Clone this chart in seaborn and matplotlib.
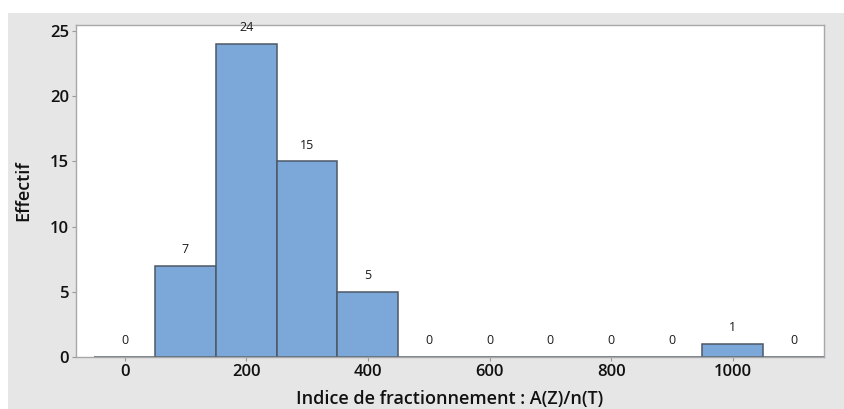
import pandas as pd
import seaborn as sns
import matplotlib.pyplot as plt
from matplotlib.patches import Rectangle

# bin centres (width 100) and counts
bin_centres = [0, 100, 200, 300, 400, 500, 600, 700, 800, 900, 1000, 1100]
counts = [0, 7, 24, 15, 5, 0, 0, 0, 0, 0, 1, 0]
x_ticks = [0, 200, 400, 600, 800, 1000]
y_ticks = [0, 5, 10, 15, 20, 25]

df = pd.DataFrame({"indice": bin_centres, "effectif": counts})
edges = [c - 50 for c in bin_centres] + [bin_centres[-1] + 50]

sns.set_theme(style="white")
plt.rcParams["font.family"] = ["Open Sans", "DejaVu Sans"]

fig = plt.figure(figsize=(8.45, 4.09), dpi=100)
fig.patch.set_facecolor("white")
fig.patches.append(Rectangle((8 / 845, 0.0), 1.0, 1 - 13 / 409,
                             transform=fig.transFigure, facecolor="#e6e6e6",
                             edgecolor="none", zorder=-10))

ax = fig.add_axes([76 / 845, 1 - 357 / 409, (824 - 76) / 845, (357 - 25) / 409])
sns.histplot(data=df, x="indice", weights="effectif", bins=edges, ax=ax,
             color="#7ba7d9", alpha=1, edgecolor="#4d5866", linewidth=1.1)

for p in ax.patches:
    h = p.get_height()
    ax.annotate(f"{int(h)}", (p.get_x() + p.get_width() / 2, h),
                xytext=(0, 7), textcoords="offset points",
                ha="center", va="bottom", fontsize=9, color="#1a1a1a")

ax.set_xlim(-80, 1150)
ax.set_ylim(0, 25.46)
ax.set_xticks(x_ticks)
ax.set_yticks(y_ticks)
ax.tick_params(axis="both", which="major", direction="out", length=3,
               width=0.8, color="#999999", labelsize=12, pad=2,
               labelcolor="#111111", left=True, bottom=True)
for lab in ax.get_xticklabels() + ax.get_yticklabels():
    lab.set_fontweight("semibold")
for s in ax.spines.values():
    s.set_color("#a8a8a8")
    s.set_linewidth(1)

ax.set_xlabel("Indice de fractionnement : A(Z)/n(T)", fontsize=13,
              fontweight="semibold", color="#111111", labelpad=7)
ax.set_ylabel("Effectif", fontsize=13, fontweight="semibold",
              color="#111111", labelpad=13)

fig.savefig("out.png", dpi=100)
